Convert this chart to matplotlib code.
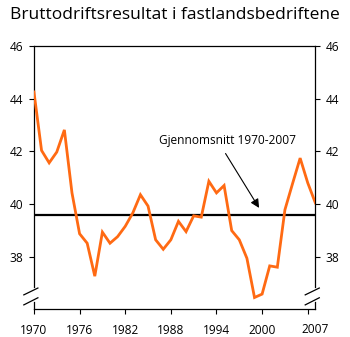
import matplotlib.pyplot as plt

plt.rcParams['font.family'] = ['Open Sans', 'DejaVu Sans']

years = list(range(1970, 2008))
result = [44.25, 42.03, 41.56, 41.97, 42.81, 40.42, 38.87, 38.51, 37.26, 38.93,
          38.51, 38.76, 39.15, 39.66, 40.35, 39.92, 38.64, 38.28, 38.64, 39.34,
          38.95, 39.55, 39.50, 40.86, 40.42, 40.70, 38.99, 38.64, 37.94, 36.45,
          36.58, 37.65, 37.60, 39.78, 40.77, 41.74, 40.80, 40.04]
average = 39.59

xticks = [1970, 1976, 1982, 1988, 1994, 2000, 2006]
xticklabels = ['1970', '1976', '1982', '1988', '1994', '2000', '']
yticks = [38, 40, 42, 44, 46]

fig = plt.figure(figsize=(3.5, 3.37), dpi=100)
ax = fig.add_axes([0.097, 0.082, 0.804, 0.782])

ax.plot(years, result, color='#ff6a13', lw=2.0, solid_joinstyle='miter', zorder=3)
ax.axhline(average, color='black', lw=1.6, zorder=2)

ax.set_xlim(1970, 2007)
ax.set_ylim(36, 46)
ax.set_xticks(xticks)
ax.set_xticklabels(xticklabels)
ax.set_yticks(yticks)
ax.tick_params(axis='y', left=True, right=True, labelleft=True, labelright=True,
               direction='out', length=3.5, width=0.8, pad=4, labelsize=8.6)
ax.tick_params(axis='x', direction='out', length=3.5, width=0.8, pad=7, labelsize=8.6)
# label for the last year sits right of its tick
ax.annotate('2007', xy=(2007, 0), xycoords=('data', 'axes fraction'),
            xytext=(0, -10), textcoords='offset points', ha='center', va='top',
            fontsize=8.6)

for s in ax.spines.values():
    s.set_linewidth(0.9)
ax.spines['left'].set_bounds(36.85, 46)
ax.spines['right'].set_bounds(36.85, 46)

# axis break marks
ytr = ax.get_yaxis_transform()
for xs in (0, 1):
    ax.plot([xs, xs], [36, 36.28], color='black', lw=0.9, transform=ytr, clip_on=False)
    for lo, hi in ((36.55, 36.81), (36.17, 36.44)):
        ax.plot([xs - 0.036, xs + 0.014], [lo, hi], color='black', lw=0.9,
                transform=ytr, clip_on=False)

ax.annotate('Gjennomsnitt 1970-2007', xy=(1999.6, 39.85), xytext=(1995.4, 42.4),
            ha='center', va='center', fontsize=8.6,
            arrowprops=dict(arrowstyle='-|>,head_length=0.6,head_width=0.3',
                            color='black', lw=0.8, relpos=(0.46, 0),
                            shrinkA=3, shrinkB=0))

fig.text(0.028, 0.955, 'Bruttodriftsresultat i fastlandsbedriftene',
         fontsize=12.5, ha='left', va='center')

fig.savefig('out.png', dpi=100)
